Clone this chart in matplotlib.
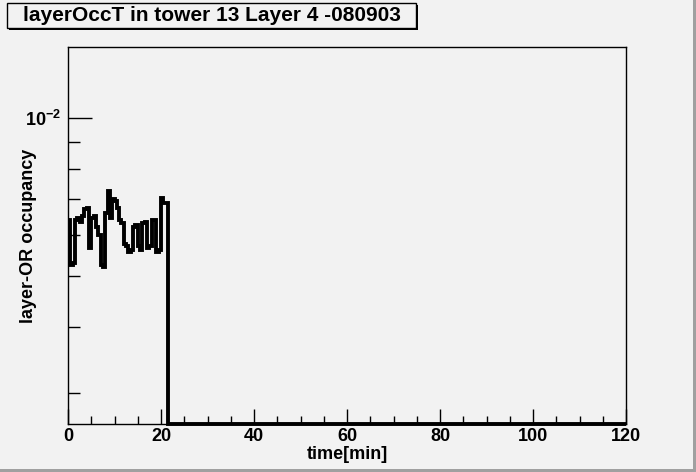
import numpy as np
import matplotlib
matplotlib.use('Agg')
import matplotlib.pyplot as plt
from matplotlib.patches import Rectangle
from matplotlib.ticker import FixedLocator, LogLocator, FixedFormatter, NullFormatter, MultipleLocator

# === Data ===
BIN_WIDTH = 0.5  # minutes
# occupancy per bin (units of 1e-3), first 43 bins (0 - 21.5 min)
occ_e3 = [6.40, 5.25, 5.30, 6.40, 6.45, 6.35, 6.50, 6.70, 6.75, 5.65,
          6.45, 6.50, 6.20, 6.00, 5.25, 5.20, 6.60, 7.25, 6.45, 7.00,
          6.95, 6.75, 6.40, 6.30, 5.75, 5.70, 5.55, 5.60, 6.20, 6.25,
          5.70, 5.60, 6.30, 6.35, 5.65, 5.70, 6.40, 6.40, 5.55, 5.60,
          7.05, 6.90, 6.90]
n_bins = 240  # 0 - 120 min
occupancy = np.zeros(n_bins)
occupancy[:len(occ_e3)] = np.array(occ_e3) * 1e-3
edges = np.arange(n_bins + 1) * BIN_WIDTH

TITLE = 'layerOccT in tower 13 Layer 4 -080903'
XLABEL = 'time[min]'
YLABEL = 'layer-OR occupancy'
YMIN, YMAX = 0.002624, 0.01361

# === Style ===
BG = '#f2f2f2'
plt.rcParams['font.family'] = ['Liberation Sans', 'DejaVu Sans']
plt.rcParams['font.weight'] = 'bold'
plt.rcParams['mathtext.fontset'] = 'custom'
plt.rcParams['mathtext.rm'] = 'Liberation Sans:bold'
plt.rcParams['mathtext.bf'] = 'Liberation Sans:bold'

W, H = 696, 472
fig = plt.figure(figsize=(W / 100, H / 100), dpi=100, facecolor=BG)
ax = fig.add_axes([68 / W, 1 - 424 / H, (626 - 68) / W, (424 - 47) / H])
ax.set_facecolor(BG)

# zero bins drawn along the bottom edge like ROOT does
y = np.maximum(occupancy, YMIN)
ax.stairs(y, edges, baseline=None, color='black', linewidth=2.8, clip_on=False, zorder=3)

ax.set_xlim(0, 120)
ax.set_yscale('log')
ax.set_ylim(YMIN, YMAX)

for s in ax.spines.values():
    s.set_linewidth(1.0)

ax.xaxis.set_major_locator(MultipleLocator(20))
ax.xaxis.set_minor_locator(MultipleLocator(5))
ax.yaxis.set_major_locator(FixedLocator([1e-2]))
ax.yaxis.set_major_formatter(FixedFormatter([r'$10^{-2}$']))
ax.yaxis.set_minor_locator(LogLocator(base=10, subs=np.arange(2, 10)))
ax.yaxis.set_minor_formatter(NullFormatter())

ax.tick_params(axis='x', which='major', direction='in', length=11, width=1, labelsize=13, pad=3)
ax.tick_params(axis='x', which='minor', direction='in', length=5.5, width=1)
ax.tick_params(axis='y', which='major', direction='in', length=17, width=1, labelsize=13, pad=5)
ax.tick_params(axis='y', which='minor', direction='in', length=8.5, width=1)

ax.set_xlabel(XLABEL, fontsize=13, fontweight='bold')
ax.xaxis.set_label_coords(0.5, -0.058)
ax.set_ylabel(YLABEL, fontsize=13, fontweight='bold')
ax.yaxis.set_label_coords(-0.071, 0.5)
ax.yaxis.label.set_va('center')

# === Title box with shadow ===
bx0, by0, bx1, by1 = 7, 3, 416, 28
fig.patches.append(Rectangle(((bx0 + 2) / W, 1 - (by1 + 2) / H), (bx1 - bx0) / W, (by1 - by0) / H,
                             transform=fig.transFigure, facecolor='black', edgecolor='black', linewidth=0))
fig.patches.append(Rectangle((bx0 / W, 1 - by1 / H), (bx1 - bx0) / W, (by1 - by0) / H,
                             transform=fig.transFigure, facecolor=BG, edgecolor='black', linewidth=1.0))
fig.text((bx0 + bx1) / 2 / W, 1 - (by0 + by1) / 2 / H, TITLE, fontsize=15, fontweight='bold',
         ha='center', va='center')

# canvas bevel on the right and bottom
fig.patches.append(Rectangle((0, 0), 1, 3 / H, transform=fig.transFigure, facecolor='#a0a0a0', linewidth=0))
fig.patches.append(Rectangle((1 - 3 / W, 0), 3 / W, 1, transform=fig.transFigure, facecolor='#a0a0a0', linewidth=0))

fig.savefig('out.png', dpi=100, facecolor=BG)
